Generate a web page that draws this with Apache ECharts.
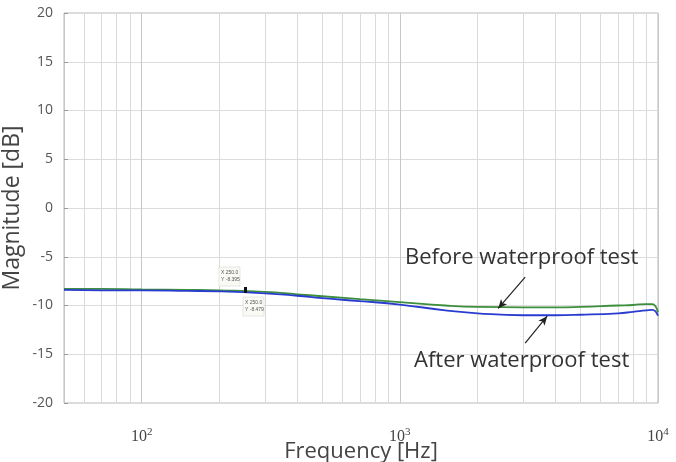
<!DOCTYPE html>
<html>
<head>
<meta charset="utf-8">
<script src="https://cdn.jsdelivr.net/npm/echarts@6/dist/echarts.min.js"></script>
<style>
  html, body { margin: 0; padding: 0; background: #fff; }
  #chart { width: 676px; height: 462px; }
</style>
</head>
<body>
<div id="chart"></div>
<script>
  // values
  let freqs = [50, 70, 100, 150, 200, 300, 400, 500, 700, 1000, 1500, 2000, 3000, 4000, 5000, 7000, 8000, 9000, 9500, 10000];
  let before = [-8.3, -8.3, -8.35, -8.4, -8.45, -8.6, -8.85, -9.05, -9.35, -9.65, -10.0, -10.15, -10.2, -10.2, -10.15, -10.0, -9.95, -9.85, -9.85, -10.7];
  let after = [-8.4, -8.45, -8.45, -8.5, -8.55, -8.75, -9.0, -9.25, -9.55, -9.9, -10.5, -10.8, -11.0, -11.0, -10.95, -10.8, -10.65, -10.5, -10.45, -11.05];
  let yTicks = [-20, -15, -10, -5, 0, 5, 10, 15, 20];

  let chart = echarts.init(document.getElementById('chart'));

  // minor log grid lines (2..9 x decade)
  let minorLines = [];
  [10, 100, 1000].forEach((d) => {
    for (let k = 2; k <= 9; k++) {
      let v = k * d;
      if (v > 50 && v < 10000) minorLines.push({ xAxis: v });
    }
  });

  let pair = (xs, ys) => xs.map((x, i) => [x, ys[i]]);

  let option = {
    animation: false,
    grid: {
      left: 64, right: 18, top: 13, bottom: 59,
      outerBoundsMode: 'none',
      containLabel: false,
      show: true, borderColor: '#b8b8b8', borderWidth: 1
    },
    xAxis: {
      type: 'log',
      logBase: 10,
      min: 50,
      max: 10000,
      name: 'Frequency [Hz]',
      nameLocation: 'middle',
      nameGap: 38,
      nameMoveOverlap: false,
      nameTextStyle: { fontFamily: 'Open Sans', fontSize: 22, color: '#444' },
      axisLine: { show: false },
      axisTick: { show: false },
      splitLine: { show: true, lineStyle: { color: '#c8c8c8', width: 1 } },
      axisLabel: {
        margin: 24,
        formatter: (v) => {
          let e = Math.log10(v);
          if (Math.abs(e - Math.round(e)) > 1e-6) return '';
          return '{b|10}{s|' + Math.round(e) + '}';
        },
        rich: {
          b: { fontFamily: 'Liberation Serif', fontSize: 16, color: '#444' },
          s: { fontFamily: 'Liberation Serif', fontSize: 11, color: '#444', verticalAlign: 'bottom', padding: [0, 0, 9, 0] }
        }
      }
    },
    yAxis: {
      type: 'value',
      min: yTicks[0],
      max: yTicks[yTicks.length - 1],
      interval: 5,
      name: 'Magnitude [dB]',
      nameLocation: 'middle',
      nameGap: 40,
      nameMoveOverlap: false,
      nameTextStyle: { fontFamily: 'Open Sans', fontSize: 23, color: '#444' },
      axisLine: { show: false },
      axisTick: { show: true, inside: true, length: 4, lineStyle: { color: '#999' } },
      splitLine: { show: true, lineStyle: { color: '#dcdcdc', width: 1 } },
      axisLabel: { fontFamily: 'Open Sans', fontSize: 14, color: '#555', margin: 11 }
    },
    series: [
      {
        name: 'Before waterproof test',
        type: 'line',
        data: pair(freqs, before),
        showSymbol: false,
        smooth: true,
        lineStyle: { color: '#3d8f3d', width: 1.8 },
        z: 3,
        markLine: {
          silent: true,
          symbol: 'none',
          label: { show: false },
          lineStyle: { color: '#dadada', type: 'solid', width: 1 },
          data: minorLines,
          z: 1
        }
      },
      {
        name: 'After waterproof test',
        type: 'line',
        data: pair(freqs, after),
        showSymbol: false,
        smooth: true,
        lineStyle: { color: '#2a3ccf', width: 1.8 },
        z: 4,
        markLine: {
          silent: true,
          symbol: ['none', 'arrow'],
          symbolSize: [6, 9],
          label: { show: false },
          lineStyle: { color: '#222', type: 'solid', width: 1.2 },
          data: [
            [{ coord: [3058, -7.08] }, { coord: [2404, -10.3] }],
            [{ coord: [3058, -13.85] }, { coord: [3721, -11.1] }]
          ]
        }
      }
    ],
    graphic: [
      { type: 'text', left: 405, top: 247, style: { text: 'Before waterproof test', fontFamily: 'Open Sans', fontSize: 22, fill: '#333' }, z: 10 },
      { type: 'text', left: 414, top: 350, style: { text: 'After waterproof test', fontFamily: 'Open Sans', fontSize: 22, fill: '#333' }, z: 10 },
      // data tips
      { type: 'rect', shape: { x: 219, y: 267, width: 21, height: 19 }, style: { fill: '#fafaf5', stroke: '#ccc', lineWidth: 0.5 }, z: 10 },
      { type: 'text', x: 221, y: 269, style: { text: 'X 250.0\nY -8.395', fontSize: 5, lineHeight: 7, fill: '#555' }, z: 11 },
      { type: 'rect', shape: { x: 243, y: 297, width: 21, height: 19 }, style: { fill: '#fafaf5', stroke: '#ccc', lineWidth: 0.5 }, z: 10 },
      { type: 'text', x: 245, y: 299, style: { text: 'X 250.0\nY -8.479', fontSize: 5, lineHeight: 7, fill: '#555' }, z: 11 },
      { type: 'rect', shape: { x: 244, y: 287, width: 3, height: 6 }, style: { fill: '#111' }, z: 11 }
    ]
  };

  chart.setOption(option);
</script>
</body>
</html>
